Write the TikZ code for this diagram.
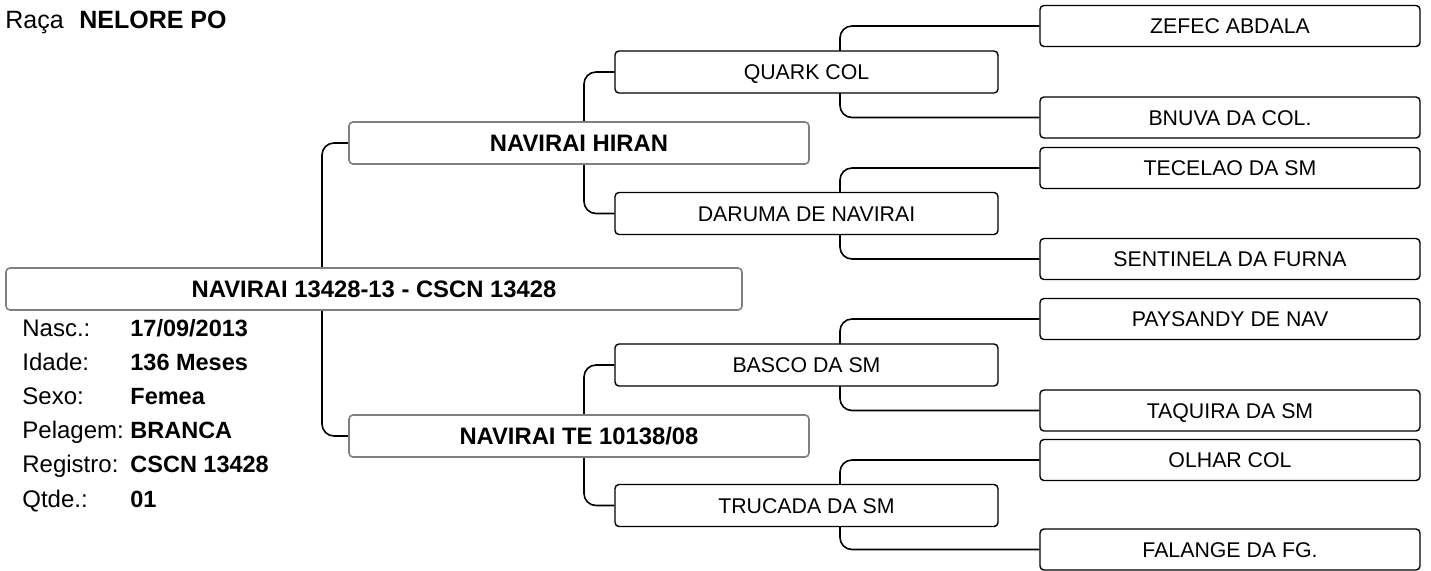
\documentclass[tikz,border=0pt]{standalone}
\usepackage{fontspec}
\setmainfont{Liberation Sans}
\usetikzlibrary{backgrounds}
\definecolor{boxgray}{RGB}{128,128,128}
\tikzset{
 pbox/.style={draw=black, rounded corners=2pt, fill=white, line width=0.7pt, minimum height=21pt, inner sep=0pt, text height=7.6pt, text depth=0pt, font=\fontsize{10.65}{12}\selectfont},
 g0/.style={pbox, draw=boxgray, line width=0.8pt, minimum width=368pt, font=\bfseries\fontsize{11.9}{14}\selectfont, text height=8.5pt},
 g1/.style={g0, minimum width=230pt},
 g2/.style={pbox, minimum width=191.5pt},
 g3/.style={pbox, minimum width=190pt, minimum height=20.5pt},
 conn/.style={draw=black, line width=0.8pt, rounded corners=6pt},
 lbl/.style={anchor=base west, inner sep=0pt, font=\fontsize{12}{14}\selectfont},
 val/.style={anchor=base west, inner sep=0pt, font=\bfseries\fontsize{11.75}{14}\selectfont},
 ttl/.style={anchor=base west, inner sep=0pt, font=\fontsize{12.5}{14}\selectfont},
}
\begin{document}
\begin{tikzpicture}[x=0.5pt,y=-0.5pt]
\useasboundingbox (0,0) rectangle (1431,570);
% title
\node[ttl] (raca) at (5,28) {Raça};
\node[ttl, font=\bfseries\fontsize{12.5}{14}\selectfont] (raceval) at (79,28) {NELORE PO};
% generation 0
\node[g0] (main) at (374,289) {NAVIRAI 13428-13 - CSCN 13428};
% generation 1
\node[g1] (hiran) at (579,143) {NAVIRAI HIRAN};
\node[g1] (te) at (579,436) {NAVIRAI TE 10138/08};
% generation 2
\node[g2] (quark) at (806.5,72) {QUARK COL};
\node[g2] (daruma) at (806.5,213.5) {DARUMA DE NAVIRAI};
\node[g2] (basco) at (806.5,365) {BASCO DA SM};
\node[g2] (trucada) at (806.5,505.5) {TRUCADA DA SM};
% generation 3
\node[g3] (zefec) at (1230,26) {ZEFEC ABDALA};
\node[g3] (bnuva) at (1230,117.5) {BNUVA DA COL.};
\node[g3] (tecelao) at (1230,168) {TECELAO DA SM};
\node[g3] (sentinela) at (1230,259) {SENTINELA DA FURNA};
\node[g3] (paysandy) at (1230,319) {PAYSANDY DE NAV};
\node[g3] (taquira) at (1230,410.5) {TAQUIRA DA SM};
\node[g3] (olhar) at (1230,460) {OLHAR COL};
\node[g3] (falange) at (1230,549.5) {FALANGE DA FG.};
% info
\node[lbl] (l1) at (22,336) {Nasc.:};
\node[lbl] (l2) at (22,370.2) {Idade:};
\node[lbl] (l3) at (22,404.4) {Sexo:};
\node[lbl] (l4) at (22,438.6) {Pelagem:};
\node[lbl] (l5) at (22,472.8) {Registro:};
\node[lbl] (l6) at (22,507) {Qtde.:};
\node[val] (v1) at (130,336) {17/09/2013};
\node[val] (v2) at (130,370.2) {136 Meses};
\node[val] (v3) at (130,404.4) {Femea};
\node[val] (v4) at (130,438.6) {BRANCA};
\node[val] (v5) at (130,472.8) {CSCN 13428};
\node[val] (v6) at (130,507) {01};
% connector columns
\coordinate (c1) at (322,0);
\coordinate (c2) at (584,0);
\coordinate (c3) at (840,0);
\begin{scope}[on background layer]
\draw[conn] (hiran.west) -- (hiran.west -| c1) -- (te.west -| c1) -- (te.west);
\draw[conn] (quark.west) -- (quark.west -| c2) -- (daruma.west -| c2) -- (daruma.west);
\draw[conn] (basco.west) -- (basco.west -| c2) -- (trucada.west -| c2) -- (trucada.west);
\draw[conn] (zefec.west) -- (zefec.west -| c3) -- (bnuva.west -| c3) -- (bnuva.west);
\draw[conn] (tecelao.west) -- (tecelao.west -| c3) -- (sentinela.west -| c3) -- (sentinela.west);
\draw[conn] (paysandy.west) -- (paysandy.west -| c3) -- (taquira.west -| c3) -- (taquira.west);
\draw[conn] (olhar.west) -- (olhar.west -| c3) -- (falange.west -| c3) -- (falange.west);
\end{scope}
\end{tikzpicture}
\end{document}
